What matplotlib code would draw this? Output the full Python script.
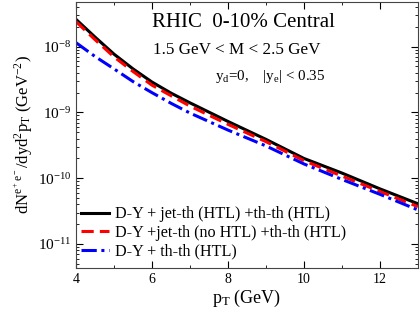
import matplotlib
matplotlib.use("Agg")
import matplotlib.pyplot as plt
from matplotlib.ticker import MultipleLocator, LogLocator, NullFormatter

plt.rcParams['font.family'] = ['Liberation Serif', 'DejaVu Serif']
plt.rcParams['mathtext.fontset'] = 'custom'
plt.rcParams['mathtext.rm'] = 'Liberation Serif'
plt.rcParams['mathtext.it'] = 'Liberation Serif'

pt = [4, 4.5, 5, 5.5, 6, 6.5, 7, 8, 9, 10, 11, 12, 13]
jet_htl = [2.6e-8, 1.4e-8, 7.7e-9, 4.6e-9, 2.9e-9, 1.97e-9, 1.4e-9, 7.3e-10,
           3.9e-10, 2.0e-10, 1.2e-10, 6.9e-11, 4.1e-11]
jet_nohtl = [2.4e-8, 1.28e-8, 7.0e-9, 4.2e-9, 2.6e-9, 1.8e-9, 1.25e-9, 6.6e-10,
             3.6e-10, 1.85e-10, 1.08e-10, 6.3e-11, 3.7e-11]
thth_only = [1.15e-8, 7.1e-9, 4.6e-9, 2.95e-9, 2.0e-9, 1.38e-9, 9.8e-10, 5.4e-10,
             3.1e-10, 1.65e-10, 9.6e-11, 5.7e-11, 3.3e-11]

labels = ["D-Y + jet-th (HTL) +th-th (HTL)",
          "D-Y +jet-th (no HTL) +th-th (HTL)",
          "D-Y + th-th (HTL)"]

fig = plt.figure(figsize=(4.2, 3.1), dpi=100)
ax = fig.add_axes([0.181, 0.135, 0.814, 0.859])

ax.plot(pt, jet_htl, color='black', lw=2.2, label=labels[0])
ax.plot(pt, jet_nohtl, color='red', lw=2.2, ls=(0, (4, 2)), label=labels[1])
ax.plot(pt, thth_only, color='blue', lw=2.2, ls=(0, (5, 1.5, 1, 1.5)), label=labels[2])

ax.set_yscale('log')
ax.set_xlim(4, 13)
ax.set_ylim(4.3e-12, 4.8e-8)
ax.xaxis.set_major_locator(MultipleLocator(2))
ax.xaxis.set_minor_locator(MultipleLocator(1))
ax.yaxis.set_major_locator(LogLocator(base=10, numticks=10))
ax.yaxis.set_minor_locator(LogLocator(base=10, subs=range(2, 10), numticks=20))
ax.yaxis.set_minor_formatter(NullFormatter())
ax.tick_params(which='both', direction='in', top=True, right=True)
ax.tick_params(which='major', length=5, labelsize=11)
ax.tick_params(which='minor', length=2.5)
ax.tick_params(axis='x', labelsize=10)
for s in ax.spines.values():
    s.set_color('#444444')

ax.set_xlabel(r'p$_\mathrm{T}$ (GeV)', fontsize=13, labelpad=1)
ax.set_ylabel(r'dN$^{\mathrm{e^+e^-}}$/dyd$^2$p$_\mathrm{T}$ (GeV$^{-2}$)', fontsize=12, labelpad=2)

ax.text(0.49, 0.921, 'RHIC  0-10% Central', transform=ax.transAxes, fontsize=15, ha='center', va='center')
ax.text(0.469, 0.82, '1.5 GeV < M < 2.5 GeV', transform=ax.transAxes, fontsize=12.3, ha='center', va='center')
ax.text(0.567, 0.718, r'y$_\mathrm{d}$=0,    |y$_\mathrm{e}$| < 0.35', transform=ax.transAxes, fontsize=10.8, ha='center', va='center')

ax.legend(loc='lower left', bbox_to_anchor=(0, 0.015), frameon=False, fontsize=11.6,
          handlelength=1.75, handletextpad=0.4, labelspacing=0.15,
          borderaxespad=0.1, borderpad=0.2)

fig.savefig('out.png', dpi=100)
